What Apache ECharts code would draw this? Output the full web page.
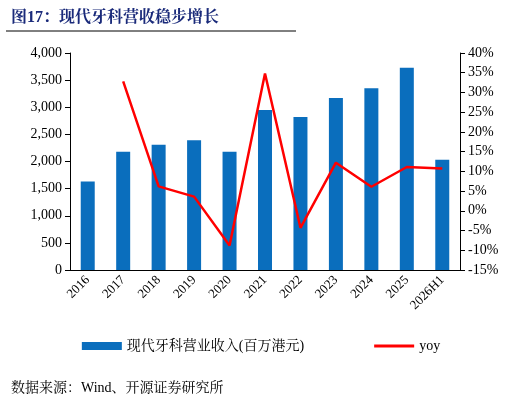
<!DOCTYPE html>
<html><head><meta charset="utf-8">
<script src="https://cdn.jsdelivr.net/npm/echarts@6/dist/echarts.min.js"></script>
<style>body{margin:0}#c{width:522px;height:406px}</style></head>
<body><div id="c"></div>
<script>
const categories=['2016','2017','2018','2019','2020','2021','2022','2023','2024','2025','2026H1'];
const revenue=[1630,2180,2310,2390,2180,2950,2820,3170,3350,3730,2030];
const yoy=[null,32.8,6.2,3.6,-8.8,34.8,-4.3,12.2,6.1,11.1,10.7];
const chart=echarts.init(document.getElementById('c'));
const f='"Liberation Serif","Noto Serif CJK SC","Noto Sans CJK SC",serif';
chart.setOption({
 animation:false,
 graphic:[{type:'line',shape:{x1:6,y1:31,x2:296,y2:31},style:{stroke:'#000',lineWidth:1}}],
 title:[{text:'图17：现代牙科营收稳步增长',left:6,top:5,textStyle:{fontSize:16,fontWeight:'bold',color:'#1a2a7a',fontFamily:f}},
  {text:'数据来源：Wind、开源证券研究所',left:6,bottom:6,textStyle:{fontSize:14,fontWeight:'normal',color:'#000',fontFamily:f}}],
 legend:{bottom:48,left:'center',itemGap:70,textStyle:{fontSize:14,color:'#000',fontFamily:f},
  data:[{name:'现代牙科营业收入(百万港元)',icon:'rect'},{name:'yoy',icon:'path://M0,0L40,0L40,3L0,3Z'}],itemWidth:40,itemHeight:8},
 grid:{left:70,right:62,top:53,bottom:136},
 xAxis:{type:'category',data:categories,axisTick:{show:false},
  axisLine:{lineStyle:{color:'#000'}},axisLabel:{rotate:45,color:'#000',fontSize:13,fontFamily:'Liberation Serif',interval:0}},
 yAxis:[{type:'value',min:0,max:4000,interval:500,splitLine:{show:false},axisLine:{show:true,lineStyle:{color:'#000'}},
   axisTick:{show:true},axisLabel:{color:'#000',fontSize:14,fontFamily:'Liberation Serif',formatter:v=>v.toLocaleString('en-US')}},
  {type:'value',min:-15,max:40,interval:5,splitLine:{show:false},axisLine:{show:true,lineStyle:{color:'#000'}},
   axisTick:{show:true},axisLabel:{color:'#000',fontSize:14,fontFamily:'Liberation Serif',formatter:'{value}%'}}],
 series:[{name:'现代牙科营业收入(百万港元)',type:'bar',data:revenue,barWidth:14,itemStyle:{color:'#0a6ebd'}},
  {name:'yoy',type:'line',yAxisIndex:1,data:yoy,symbol:'none',lineStyle:{color:'#ff0000',width:2.5},itemStyle:{color:'#ff0000'}}]
});
</script></body></html>
